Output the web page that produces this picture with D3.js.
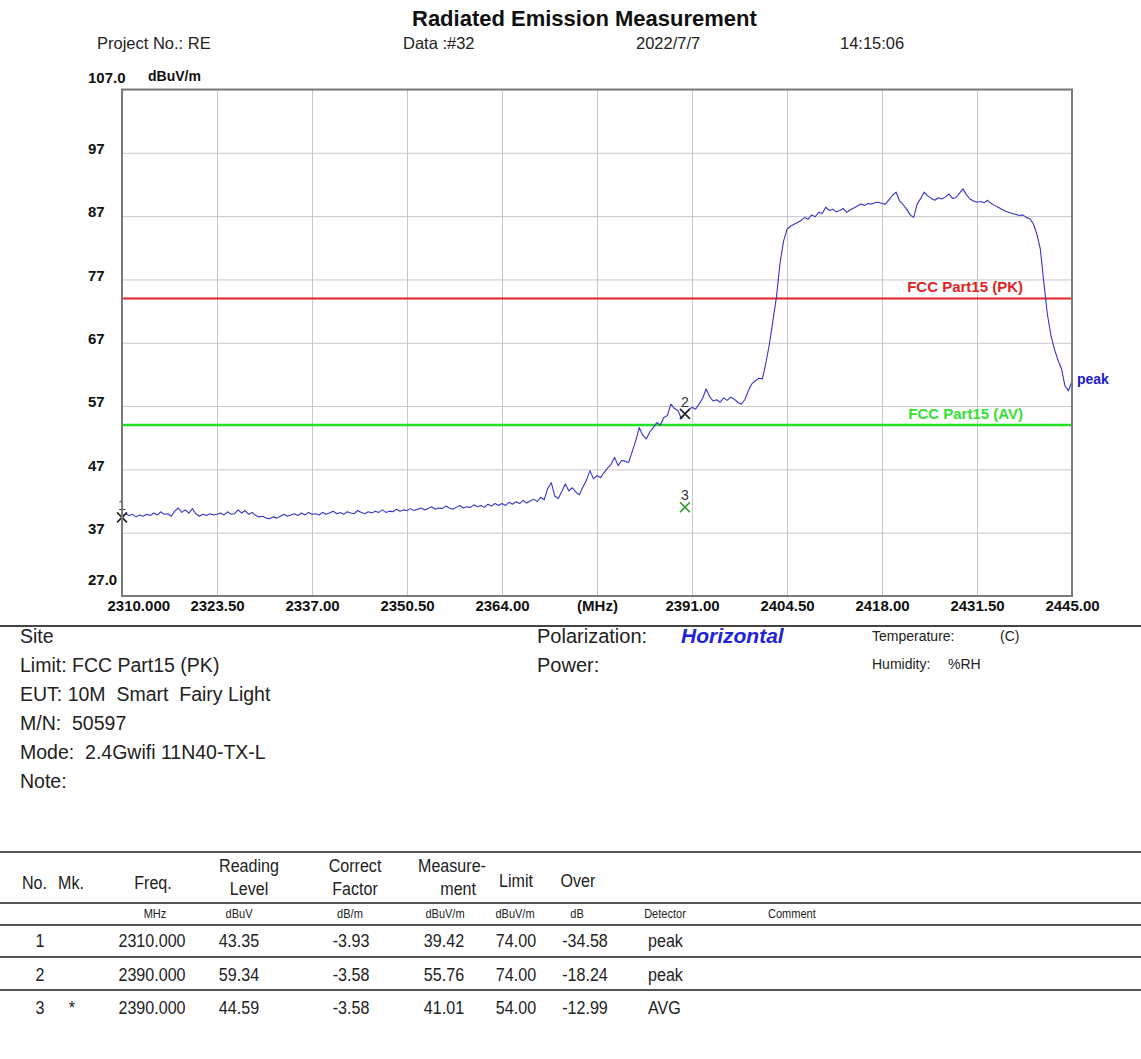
<!DOCTYPE html>
<html><head><meta charset="utf-8">
<script src="https://cdn.jsdelivr.net/npm/d3@7"></script>
<style>
html,body{margin:0;padding:0;background:#fff;}
svg{display:block;}
text{font-family:"Liberation Sans",Arial,sans-serif;}
</style></head><body>
<svg id="c" width="1141" height="1059"></svg>
<script>
// ---------- data ----------
const xTicks = [2310, 2323.5, 2337, 2350.5, 2364, 2377.5, 2391, 2404.5, 2418, 2431.5, 2445];
const xTickLabels = ["2310.000","2323.50","2337.00","2350.50","2364.00","(MHz)","2391.00","2404.50","2418.00","2431.50","2445.00"];
const yTicks = [107, 97, 87, 77, 67, 57, 47, 37, 27];
const yTickLabels = ["107.0","97","87","77","67","57","47","37","27.0"];
const freqStart = 2310, freqStep = 0.5;   // sweep grid, MHz
const peakTrace = [
 39.4,40.0,39.7,39.9,39.5,39.8,39.6,39.9,39.7,40.1,
 39.8,40.3,39.9,40.0,39.6,40.4,40.9,40.2,40.6,40.1,
 40.8,40.0,39.6,39.9,39.7,40.0,39.8,39.9,40.1,39.8,
 40.3,39.9,40.0,40.6,40.1,40.5,39.9,40.2,39.7,39.5,
 39.6,39.3,39.2,39.5,39.3,39.6,39.9,39.6,39.8,40.0,
 39.7,40.1,39.8,40.2,39.9,40.0,39.8,40.2,39.9,40.1,
 40.4,40.0,40.2,39.9,40.3,40.1,40.0,40.5,40.2,40.0,
 40.3,40.1,40.4,40.2,40.6,40.2,40.4,40.3,40.7,40.4,
 40.6,40.5,40.8,40.5,40.7,40.9,40.6,40.8,41.1,40.7,
 40.9,40.8,41.2,40.9,40.7,41.0,41.3,40.9,41.1,41.0,
 41.4,41.1,41.3,41.0,41.5,41.2,41.6,41.3,41.6,41.3,
 41.8,41.5,41.9,41.6,42.1,41.7,42.0,42.3,41.9,42.6,
 42.2,44.0,44.9,42.8,42.4,43.5,44.7,43.6,44.1,43.4,
 43.0,44.2,45.3,46.8,45.5,46.0,45.7,46.5,47.2,47.8,
 48.9,47.6,48.4,48.3,48.1,49.8,51.5,53.6,52.4,51.8,
 52.9,53.6,54.4,54.0,55.2,55.5,57.3,56.6,56.3,55.0,
 55.8,56.4,56.8,56.5,57.3,58.2,59.7,58.5,57.8,58.0,
 57.6,58.3,57.9,58.4,58.1,57.6,57.3,58.0,59.4,60.5,
 61.0,61.4,61.3,63.8,66.8,70.5,74.2,79.5,83.0,84.9,
 85.4,85.7,86.0,86.3,86.8,86.5,87.2,86.9,87.6,87.4,
 88.4,87.9,88.1,87.7,87.9,88.2,87.6,88.0,88.3,88.6,
 88.9,88.7,89.0,88.9,89.1,89.2,89.0,88.9,89.6,90.3,
 90.8,89.4,88.8,88.1,87.2,86.8,88.9,89.8,90.8,90.2,
 89.8,89.5,89.9,89.7,90.0,90.5,89.8,89.9,90.6,91.3,
 90.4,89.7,89.4,89.2,89.3,89.1,89.5,89.0,88.7,88.4,
 88.1,87.8,87.6,87.4,87.3,87.1,87.2,86.8,86.6,85.8,
 84.2,81.8,76.5,71.5,68.2,66.0,64.3,62.9,60.2,59.4,
 61.0
];
const limitPK = 74, limitAV = 54;
const limitNames = ["FCC Part15 (PK)", "FCC Part15 (AV)"];

// marker / result table
const tblNo = ["1","2","3"];
const tblMk = ["","","*"];
const tblFreq = [2310.000, 2390.000, 2390.000];
const tblReading = [43.35, 59.34, 44.59];
const tblCorrect = [-3.93, -3.58, -3.58];
const tblMeasure = [39.42, 55.76, 41.01];
const tblLimit = [74.00, 74.00, 54.00];
const tblOver = [-34.58, -18.24, -12.99];
const tblDetector = ["peak","peak","AVG"];

const headerTexts = ["Project No.: RE", "Data :#32", "2022/7/7", "14:15:06"];
const infoLeft = ["Site", "Limit: FCC Part15 (PK)", "EUT: 10M  Smart  Fairy Light", "M/N:  50597", "Mode:  2.4Gwifi 11N40-TX-L", "Note:"];

// ---------- drawing ----------
const svg = d3.select("#c");
svg.append("rect").attr("width",1141).attr("height",1059).attr("fill","#fff");

const L = 122, R = 1072, T = 89.5, B = 596;
const x = d3.scaleLinear().domain([2310, 2445]).range([L, R]);
const y = d3.scaleLinear().domain([27, 107]).range([B, T]);

// title & header
svg.append("text").attr("x", 412).attr("y", 26).attr("font-size", 22).attr("font-weight", "bold")
  .attr("fill","#111").text("Radiated Emission Measurement");
const hx = [97, 403, 636, 840];
svg.selectAll("text.hdr").data(headerTexts).join("text").attr("class","hdr")
  .attr("x",(d,i)=>hx[i]).attr("y",49).attr("font-size",16.5).attr("fill","#222").text(d=>d);
svg.append("text").attr("x",148).attr("y",81).attr("font-size",14).attr("font-weight","bold")
  .attr("fill","#111").text("dBuV/m");

// x axis with grid
const gx = svg.append("g").attr("transform",`translate(0,${B})`)
  .call(d3.axisBottom(x).tickValues(xTicks).tickFormat((d,i)=>xTickLabels[i])
        .tickSize(-(B-T)).tickPadding(4));
gx.select(".domain").remove();
gx.selectAll("line").attr("stroke","#c6c6c6").attr("stroke-width",1);
gx.selectAll("text").attr("font-size",15).attr("font-weight","bold").attr("fill","#111")
  .attr("font-family","Liberation Sans, Arial, sans-serif");
gx.selectAll(".tick").filter(d=>d===2310).select("text").attr("text-anchor","start").attr("x",-15);

// y axis with grid
const gy = svg.append("g").attr("transform",`translate(${L},0)`)
  .call(d3.axisLeft(y).tickValues(yTicks).tickFormat((d,i)=>yTickLabels[i])
        .tickSize(-(R-L)));
gy.select(".domain").remove();
gy.selectAll("line").attr("stroke","#c6c6c6").attr("stroke-width",1);
gy.selectAll("text").attr("font-size",15).attr("font-weight","bold").attr("fill","#111")
  .attr("font-family","Liberation Sans, Arial, sans-serif")
  .attr("text-anchor","start").attr("x", 88-L).attr("dy","0.05em");
gy.selectAll(".tick").filter(d=>d===107).select("text").attr("dy","-0.45em");
gy.selectAll(".tick").filter(d=>d===27).select("text").attr("dy","-0.75em");

// limit lines
svg.append("line").attr("x1",L).attr("x2",R).attr("y1",y(limitPK)).attr("y2",y(limitPK))
  .attr("stroke","#e02424").attr("stroke-width",2);
svg.append("line").attr("x1",L).attr("x2",R).attr("y1",y(limitAV)).attr("y2",y(limitAV))
  .attr("stroke","#22e022").attr("stroke-width",2.5);
svg.append("text").attr("x",1023).attr("y",y(limitPK)-6).attr("text-anchor","end")
  .attr("font-size",15).attr("font-weight","bold").attr("fill","#e02424").text(limitNames[0]);
svg.append("text").attr("x",1023).attr("y",y(limitAV)-6).attr("text-anchor","end")
  .attr("font-size",15).attr("font-weight","bold").attr("fill","#33e033").text(limitNames[1]);

// trace
const line = d3.line().x((d,i)=>x(freqStart + i*freqStep)).y(d=>y(d));
svg.append("path").datum(peakTrace).attr("d",line).attr("fill","none")
  .attr("stroke","#3535cc").attr("stroke-width",1.1).attr("stroke-linejoin","round");
svg.append("text").attr("x",x(2445)+5).attr("y",y(peakTrace[peakTrace.length-1])+3)
  .attr("font-size",14).attr("font-weight","bold").attr("fill","#1c1ccc").text("peak");

// markers
const mk = svg.append("g");
tblNo.forEach((n,i)=>{
  const cx = x(tblFreq[i]), cy = y(tblMeasure[i]);
  const col = tblDetector[i]==="AVG" ? "#2f9a2f" : "#222";
  const s = 5;
  mk.append("path").attr("d",`M${cx-s},${cy-s}L${cx+s},${cy+s}M${cx+s},${cy-s}L${cx-s},${cy+s}`)
    .attr("stroke",col).attr("stroke-width",1.6).attr("fill","none");
  mk.append("text").attr("x",cx).attr("y",cy-7).attr("text-anchor","middle")
    .attr("font-size",14).attr("fill","#333").text(n);
});

// frame
svg.append("rect").attr("x",L).attr("y",T).attr("width",R-L).attr("height",B-T)
  .attr("fill","none").attr("stroke","#7a7a7a").attr("stroke-width",2);

// info section
svg.append("line").attr("x1",0).attr("x2",1141).attr("y1",626).attr("y2",626)
  .attr("stroke","#444").attr("stroke-width",2);
svg.selectAll("text.info").data(infoLeft).join("text").attr("class","info")
  .attr("x",20).attr("y",(d,i)=>643+29*i).attr("font-size",19.5).attr("fill","#222")
  .attr("xml:space","preserve").style("white-space","pre").text(d=>d);
svg.append("text").attr("x",537).attr("y",643).attr("font-size",20).attr("fill","#222").text("Polarization:");
svg.append("text").attr("x",681).attr("y",643).attr("font-size",21).attr("font-weight","bold")
  .attr("font-style","italic").attr("fill","#2323d6").text("Horizontal");
svg.append("text").attr("x",537).attr("y",672).attr("font-size",20).attr("fill","#222").text("Power:");
svg.append("text").attr("x",872).attr("y",641).attr("font-size",14).attr("fill","#222").text("Temperature:");
svg.append("text").attr("x",1000).attr("y",641).attr("font-size",14).attr("fill","#222").text("(C)");
svg.append("text").attr("x",872).attr("y",669).attr("font-size",14).attr("fill","#222").text("Humidity:");
svg.append("text").attr("x",948).attr("y",669).attr("font-size",14).attr("fill","#222").text("%RH");

// table
const tg = svg.append("g").attr("fill","#222");
[852, 903, 925, 957, 990].forEach(yy=>{
  tg.append("line").attr("x1",0).attr("x2",1141).attr("y1",yy).attr("y2",yy)
    .attr("stroke","#555").attr("stroke-width",2);
});
// narrow-looking report font: scale glyphs horizontally around the anchor
function t(xp, yp, s, opts={}) {
  const g = tg.append("g").attr("transform",`translate(${xp},${yp}) scale(${opts.sx||0.87},1)`);
  return g.append("text").attr("x",0).attr("y",0).attr("font-size",opts.fs||18.5)
    .attr("text-anchor",opts.a||"middle").text(s);
}
t(22,889,"No.",{a:"start"}); t(58,889,"Mk.",{a:"start"});
t(153,889,"Freq.");
t(249,872,"Reading"); t(249,895,"Level");
t(355,872,"Correct"); t(355,895,"Factor");
t(418,872,"Measure-",{a:"start"}); t(476,895,"ment",{a:"end"});
t(516,887,"Limit"); t(578,887,"Over");
const unitX = [155, 239, 350, 445, 515, 577, 665];
const units = ["MHz","dBuV","dB/m","dBuV/m","dBuV/m","dB","Detector"];
units.forEach((u,i)=>t(unitX[i],918,u,{fs:13,sx:0.85}));
t(768,918,"Comment",{a:"start",fs:13,sx:0.85});
const rowY = [947, 981, 1014];
const colX = [152, 239, 351, 444, 516, 585];
tblNo.forEach((n,i)=>{
  const yy = rowY[i];
  t(40,yy,n);
  if (tblMk[i]) t(72,yy,tblMk[i]);
  t(colX[0],yy,tblFreq[i].toFixed(3));
  t(colX[1],yy,tblReading[i].toFixed(2));
  t(colX[2],yy,tblCorrect[i].toFixed(2));
  t(colX[3],yy,tblMeasure[i].toFixed(2));
  t(colX[4],yy,tblLimit[i].toFixed(2));
  t(colX[5],yy,tblOver[i].toFixed(2));
  t(648,yy,tblDetector[i],{a:"start"});
});
</script>
</body></html>
